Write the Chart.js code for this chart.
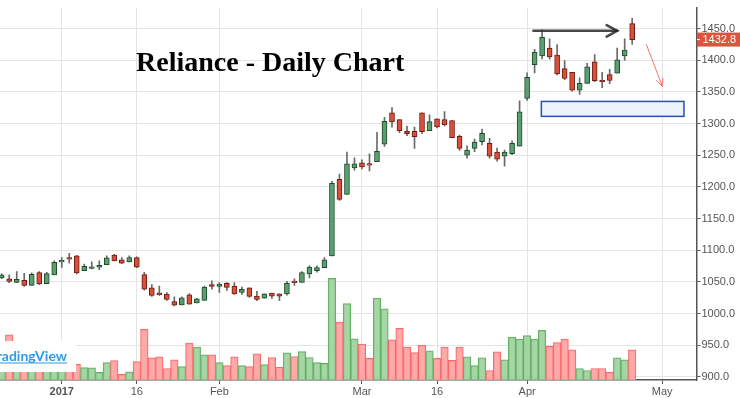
<!DOCTYPE html>
<html><head><meta charset="utf-8">
<script src="https://cdn.jsdelivr.net/npm/chart.js@4.4.0/dist/chart.umd.min.js"></script>
<style>html,body{margin:0;padding:0;background:#fff;overflow:hidden}canvas{display:block}</style>
</head><body>
<canvas id="c" width="740" height="398"></canvas>
<script>
// ---- DATA ----
const dates = [
 '2016-12-21','2016-12-22','2016-12-23','2016-12-26','2016-12-27','2016-12-28','2016-12-29','2016-12-30',
 '2017-01-02','2017-01-03','2017-01-04','2017-01-05','2017-01-06','2017-01-09','2017-01-10','2017-01-11','2017-01-12','2017-01-13',
 '2017-01-16','2017-01-17','2017-01-18','2017-01-19','2017-01-20','2017-01-23','2017-01-24','2017-01-25','2017-01-27','2017-01-30','2017-01-31',
 '2017-02-01','2017-02-02','2017-02-03','2017-02-06','2017-02-07','2017-02-08','2017-02-09','2017-02-10','2017-02-13','2017-02-14','2017-02-15','2017-02-16','2017-02-17',
 '2017-02-20','2017-02-21','2017-02-22','2017-02-23','2017-02-27','2017-02-28',
 '2017-03-01','2017-03-02','2017-03-03','2017-03-06','2017-03-07','2017-03-08','2017-03-09','2017-03-10','2017-03-14','2017-03-15','2017-03-16','2017-03-17',
 '2017-03-20','2017-03-21','2017-03-22','2017-03-23','2017-03-24','2017-03-27','2017-03-28','2017-03-29','2017-03-30','2017-03-31',
 '2017-04-03','2017-04-05','2017-04-06','2017-04-07','2017-04-10','2017-04-11','2017-04-12','2017-04-13','2017-04-17','2017-04-18','2017-04-19','2017-04-20','2017-04-21','2017-04-24','2017-04-25'
];
const futureDates = ['2017-04-26','2017-04-27','2017-04-28','2017-05-02','2017-05-03','2017-05-04','2017-05-05','2017-05-08'];
const open = [1056.5,1055.0,1049.3,1052.4,1044.6,1064.8,1047.2,1061.2,1081.8,1088.5,1091.1,1067.9,1071.5,1073.5,1077.1,1092.6,1084.9,1081.8,1088.5,1061.7,1040.5,1032.8,1030.7,1018.8,1013.7,1029.7,1016.8,1020.9,1045.7,1043.1,1047.7,1043.6,1033.3,1040.5,1027.6,1024.5,1032.3,1031.2,1031.2,1051.3,1049.3,1062.7,1067.9,1072.5,1091.2,1211.9,1188.2,1230.0,1238.2,1235.1,1239.8,1267.6,1317.1,1306.3,1287.7,1287.7,1317.1,1288.8,1307.8,1306.3,1304.7,1280.0,1250.1,1260.9,1271.7,1269.1,1255.2,1248.5,1252.6,1264.5,1340.0,1393.0,1406.9,1419.3,1408.5,1386.8,1381.1,1352.8,1363.6,1397.6,1366.7,1377.5,1379.6,1407.0,1458.0];
const high = [1062.7,1061.2,1066.3,1063.7,1064.2,1066.3,1065.3,1083.3,1088.5,1095.2,1092.1,1078.2,1081.8,1083.3,1091.1,1093.7,1088.5,1091.1,1089.5,1065.3,1045.7,1043.6,1033.3,1026.6,1026.6,1031.7,1024.0,1043.6,1051.9,1048.8,1048.8,1048.8,1042.0,1040.5,1035.3,1031.2,1032.3,1031.2,1050.8,1055.0,1066.3,1075.6,1075.6,1088.5,1208.8,1220.2,1255.2,1246.0,1242.9,1252.2,1286.2,1310.0,1325.4,1306.3,1296.0,1294.4,1317.1,1314.0,1307.8,1319.2,1304.7,1282.0,1265.0,1275.8,1291.3,1276.9,1261.4,1258.3,1272.8,1336.2,1380.1,1417.3,1448.2,1433.8,1425.0,1399.7,1381.1,1372.4,1395.1,1409.0,1381.1,1385.8,1419.3,1433.8,1466.3];
const low = [1055.0,1048.8,1048.8,1043.1,1044.6,1045.7,1047.2,1061.2,1073.0,1079.7,1062.7,1067.9,1070.4,1069.4,1077.1,1083.3,1078.7,1081.8,1072.5,1036.9,1027.1,1028.6,1020.9,1012.1,1013.7,1014.7,1016.8,1020.9,1038.4,1033.3,1036.4,1030.2,1030.2,1025.6,1020.4,1024.5,1024.0,1020.4,1029.2,1044.6,1049.3,1056.5,1065.3,1072.5,1091.2,1178.9,1188.2,1226.4,1228.4,1225.3,1239.8,1264.0,1294.4,1285.6,1281.0,1260.9,1284.1,1288.8,1293.4,1296.5,1277.9,1257.8,1245.4,1255.7,1266.6,1245.4,1240.8,1233.0,1251.1,1264.5,1336.5,1380.1,1402.3,1401.8,1377.0,1369.3,1351.2,1346.0,1363.6,1366.2,1356.9,1363.1,1379.6,1399.7,1425.0];
const close = [1061.2,1050.8,1054.0,1044.6,1062.2,1046.7,1063.2,1080.8,1082.2,1085.9,1064.2,1074.6,1074.0,1076.1,1088.0,1083.3,1079.7,1088.5,1073.5,1038.4,1028.6,1029.7,1022.5,1013.2,1025.0,1014.7,1023.5,1042.0,1043.1,1046.7,1041.5,1031.2,1038.4,1027.1,1022.5,1031.2,1027.6,1027.6,1047.7,1048.8,1064.8,1073.5,1072.5,1084.9,1205.7,1180.4,1236.7,1236.7,1231.5,1234.6,1256.3,1303.8,1302.7,1288.8,1284.1,1279.5,1287.2,1303.2,1295.0,1298.0,1277.9,1260.9,1258.3,1270.7,1284.6,1248.5,1243.9,1255.2,1269.1,1318.7,1373.2,1413.1,1436.3,1405.4,1378.6,1371.3,1352.8,1363.6,1389.9,1367.7,1366.2,1368.2,1400.7,1416.2,1432.8];
const volume = [2.0,4.6,1.8,2.5,2.2,2.8,2.0,3.0,2.2,2.5,1.6,1.27,1.23,0.77,1.77,1.97,0.57,0.83,1.87,5.17,2.27,2.37,1.17,2.07,1.37,3.77,3.37,2.57,2.57,1.77,1.47,2.37,1.47,1.37,2.67,1.57,2.3,1.3,2.77,2.4,2.9,2.3,1.77,1.7,10.37,5.9,7.8,4.2,3.67,2.2,8.37,7.27,4.1,5.27,3.37,2.8,3.57,2.97,2.2,3.37,2.0,3.37,2.37,1.47,2.27,0.97,2.87,2.07,4.37,4.17,4.53,4.17,5.07,3.43,3.83,4.17,3.07,1.17,0.97,1.17,1.17,0.77,2.27,2.07,3.07];
const tickDates = ['2017-01-02','2017-01-16','2017-02-01','2017-03-01','2017-03-16','2017-04-03','2017-05-02'];
const tickLabels = ['2017','16','Feb','Mar','16','Apr','May'];
const priceTicks = [900,950,1000,1050,1100,1150,1200,1250,1300,1350,1400,1450];
const titleText = 'Reliance - Daily Chart';
// annotations in data units: [index, price]
const blackArrow = [[70.84,1446.6],[82.0,1446.6]];
const redArrow = [[85.9,1424.9],[88.0,1359.4]];
const targetBox = [[71.9,1335.1],[90.9,1311.5]];

// ---- BUILD ----
const axisDates = dates.concat(futureDates);
const tickIdx = tickDates.map(d => axisDates.indexOf(d));
const up = close.map((c,i) => c >= open[i]);
const wickData = dates.map((d,i) => ({x:i, y:[low[i], high[i]]}));
const bodyData = dates.map((d,i) => ({x:i, y:[open[i], close[i]]}));
const volData = dates.map((d,i) => ({x:i, y:volume[i]}));

const FONT = '"Liberation Sans", Arial, sans-serif';

function arrow(ctx, x1, y1, x2, y2, len, ang) {
  ctx.beginPath(); ctx.moveTo(x1,y1); ctx.lineTo(x2,y2); ctx.stroke();
  const a = Math.atan2(y2-y1, x2-x1);
  ctx.beginPath();
  ctx.moveTo(x2 - len*Math.cos(a-ang), y2 - len*Math.sin(a-ang));
  ctx.lineTo(x2, y2);
  ctx.lineTo(x2 - len*Math.cos(a+ang), y2 - len*Math.sin(a+ang));
  ctx.stroke();
}

const overlay = {
  id: 'overlay',
  afterDatasetsDraw(chart) {
    const ctx = chart.ctx, xs = chart.scales.x, ys = chart.scales.y;
    const P = p => [xs.getPixelForValue(p[0]), ys.getPixelForValue(p[1])];
    ctx.save();
    // watermark
    ctx.fillStyle = 'rgba(255,255,255,0.97)';
    ctx.fillRect(0, 341, 76, 31);
    ctx.font = 'bold 14px Lato, "Open Sans", sans-serif';
    ctx.textAlign = 'right'; ctx.textBaseline = 'alphabetic';
    ctx.fillStyle = '#2f9be6';
    ctx.fillText('TradingView', 67, 360.5);
    ctx.fillRect(0, 362.5, 67, 1);
    // title
    ctx.textAlign = 'left';
    ctx.fillStyle = '#000';
    ctx.font = 'bold 28px "Liberation Serif", "Times New Roman", serif';
    ctx.fillText(titleText, 136, 71);
    // target box
    const b1 = P(targetBox[0]), b2 = P(targetBox[1]);
    ctx.fillStyle = '#eef2fb';
    ctx.fillRect(b1[0], b1[1], b2[0]-b1[0], b2[1]-b1[1]);
    ctx.strokeStyle = '#2352b0'; ctx.lineWidth = 1.5;
    ctx.strokeRect(b1[0], b1[1], b2[0]-b1[0], b2[1]-b1[1]);
    // black arrow
    const a1 = P(blackArrow[0]), a2 = P(blackArrow[1]);
    ctx.strokeStyle = 'rgba(40,40,40,0.85)'; ctx.lineWidth = 2.5; ctx.lineCap = 'round';
    arrow(ctx, a1[0], a1[1], a2[0], a2[1], 12, 0.5);
    // red arrow
    const r1 = P(redArrow[0]), r2 = P(redArrow[1]);
    ctx.strokeStyle = 'rgba(238,90,90,0.85)'; ctx.lineWidth = 1;
    arrow(ctx, r1[0], r1[1], r2[0], r2[1], 8, 0.45);
    ctx.restore();
  },
  afterDraw(chart) {
    const ctx = chart.ctx, ys = chart.scales.y, ca = chart.chartArea;
    ctx.save();
    // clip area below axis on the right
    ctx.fillStyle = '#fff';
    ctx.fillRect(ca.right + 1, ca.bottom + 1, chart.width - ca.right, chart.height - ca.bottom);
    // last price label
    const last = close[close.length-1];
    const y = ys.getPixelForValue(last);
    ctx.fillStyle = '#de533e';
    ctx.fillRect(ca.right + 0.5, y - 7, chart.width - ca.right, 14);
    ctx.fillStyle = '#fff';
    ctx.fillRect(ca.right + 0.5, y - 0.5, 3, 1);
    ctx.font = '11px ' + FONT;
    ctx.textAlign = 'left'; ctx.textBaseline = 'middle';
    ctx.fillText(last.toFixed(1), ca.right + 6, y + 0.5);
    ctx.restore();
  }
};

new Chart(document.getElementById('c'), {
  type: 'bar',
  data: {
    datasets: [
      { label:'body', data: bodyData, order: 1, grouped: false, barThickness: 5, minBarLength: 1.5,
        backgroundColor: up.map(u => u ? '#5b9e70' : '#d84f3c'),
        borderColor: up.map(u => u ? '#1d4a2b' : '#6e1c12'),
        borderWidth: 1, borderSkipped: false, yAxisID: 'y' },
      { label:'wick', data: wickData, order: 2, grouped: false, barThickness: 1,
        backgroundColor: '#6a6a6a', borderWidth: 0, yAxisID: 'y' },
      { label:'volume', data: volData, order: 3, grouped: false, barThickness: 7.5,
        backgroundColor: up.map(u => u ? 'rgba(150,207,150,0.85)' : 'rgba(255,160,160,0.9)'),
        borderColor: up.map(u => u ? '#62b062' : '#f86868'),
        borderWidth: 1, borderSkipped: 'bottom', yAxisID: 'yv' }
    ]
  },
  options: {
    responsive: false, animation: false, devicePixelRatio: 1,
    layout: { padding: 0 },
    plugins: { legend: { display: false }, tooltip: { enabled: false }, title: { display: false } },
    scales: {
      x: {
        type: 'linear', min: -0.227, max: 92.57, offset: false,
        grid: { color: '#e4e4e4', offset: false, drawTicks: true, tickLength: 4, tickColor: '#555' },
        border: { color: '#555', width: 1.5 },
        afterBuildTicks: s => { s.ticks = tickIdx.map(v => ({ value: v })); },
        afterFit: s => { s.height = 18; },
        ticks: {
          autoSkip: false, maxRotation: 0, padding: 1, color: '#555',
          callback: v => tickLabels[tickIdx.indexOf(v)],
          font: ctx => ({ family: FONT, size: 11, weight: (ctx.tick && ctx.tick.label === '2017') ? 'bold' : 'normal' })
        }
      },
      y: {
        position: 'right', min: 895.1, max: 1483.3,
        grid: { color: '#e4e4e4', drawTicks: true, tickLength: 4, tickColor: '#555' },
        border: { color: '#555', width: 1.5 },
        afterBuildTicks: s => { s.ticks = priceTicks.map(v => ({ value: v })); },
        afterFit: s => { s.width = 43.5; },
        ticks: { padding: 1, color: '#555', font: { family: FONT, size: 11 }, callback: v => Number(v).toFixed(1) }
      },
      yv: { display: false, min: 0, max: 38 }
    }
  },
  plugins: [overlay]
});
</script>
</body></html>
